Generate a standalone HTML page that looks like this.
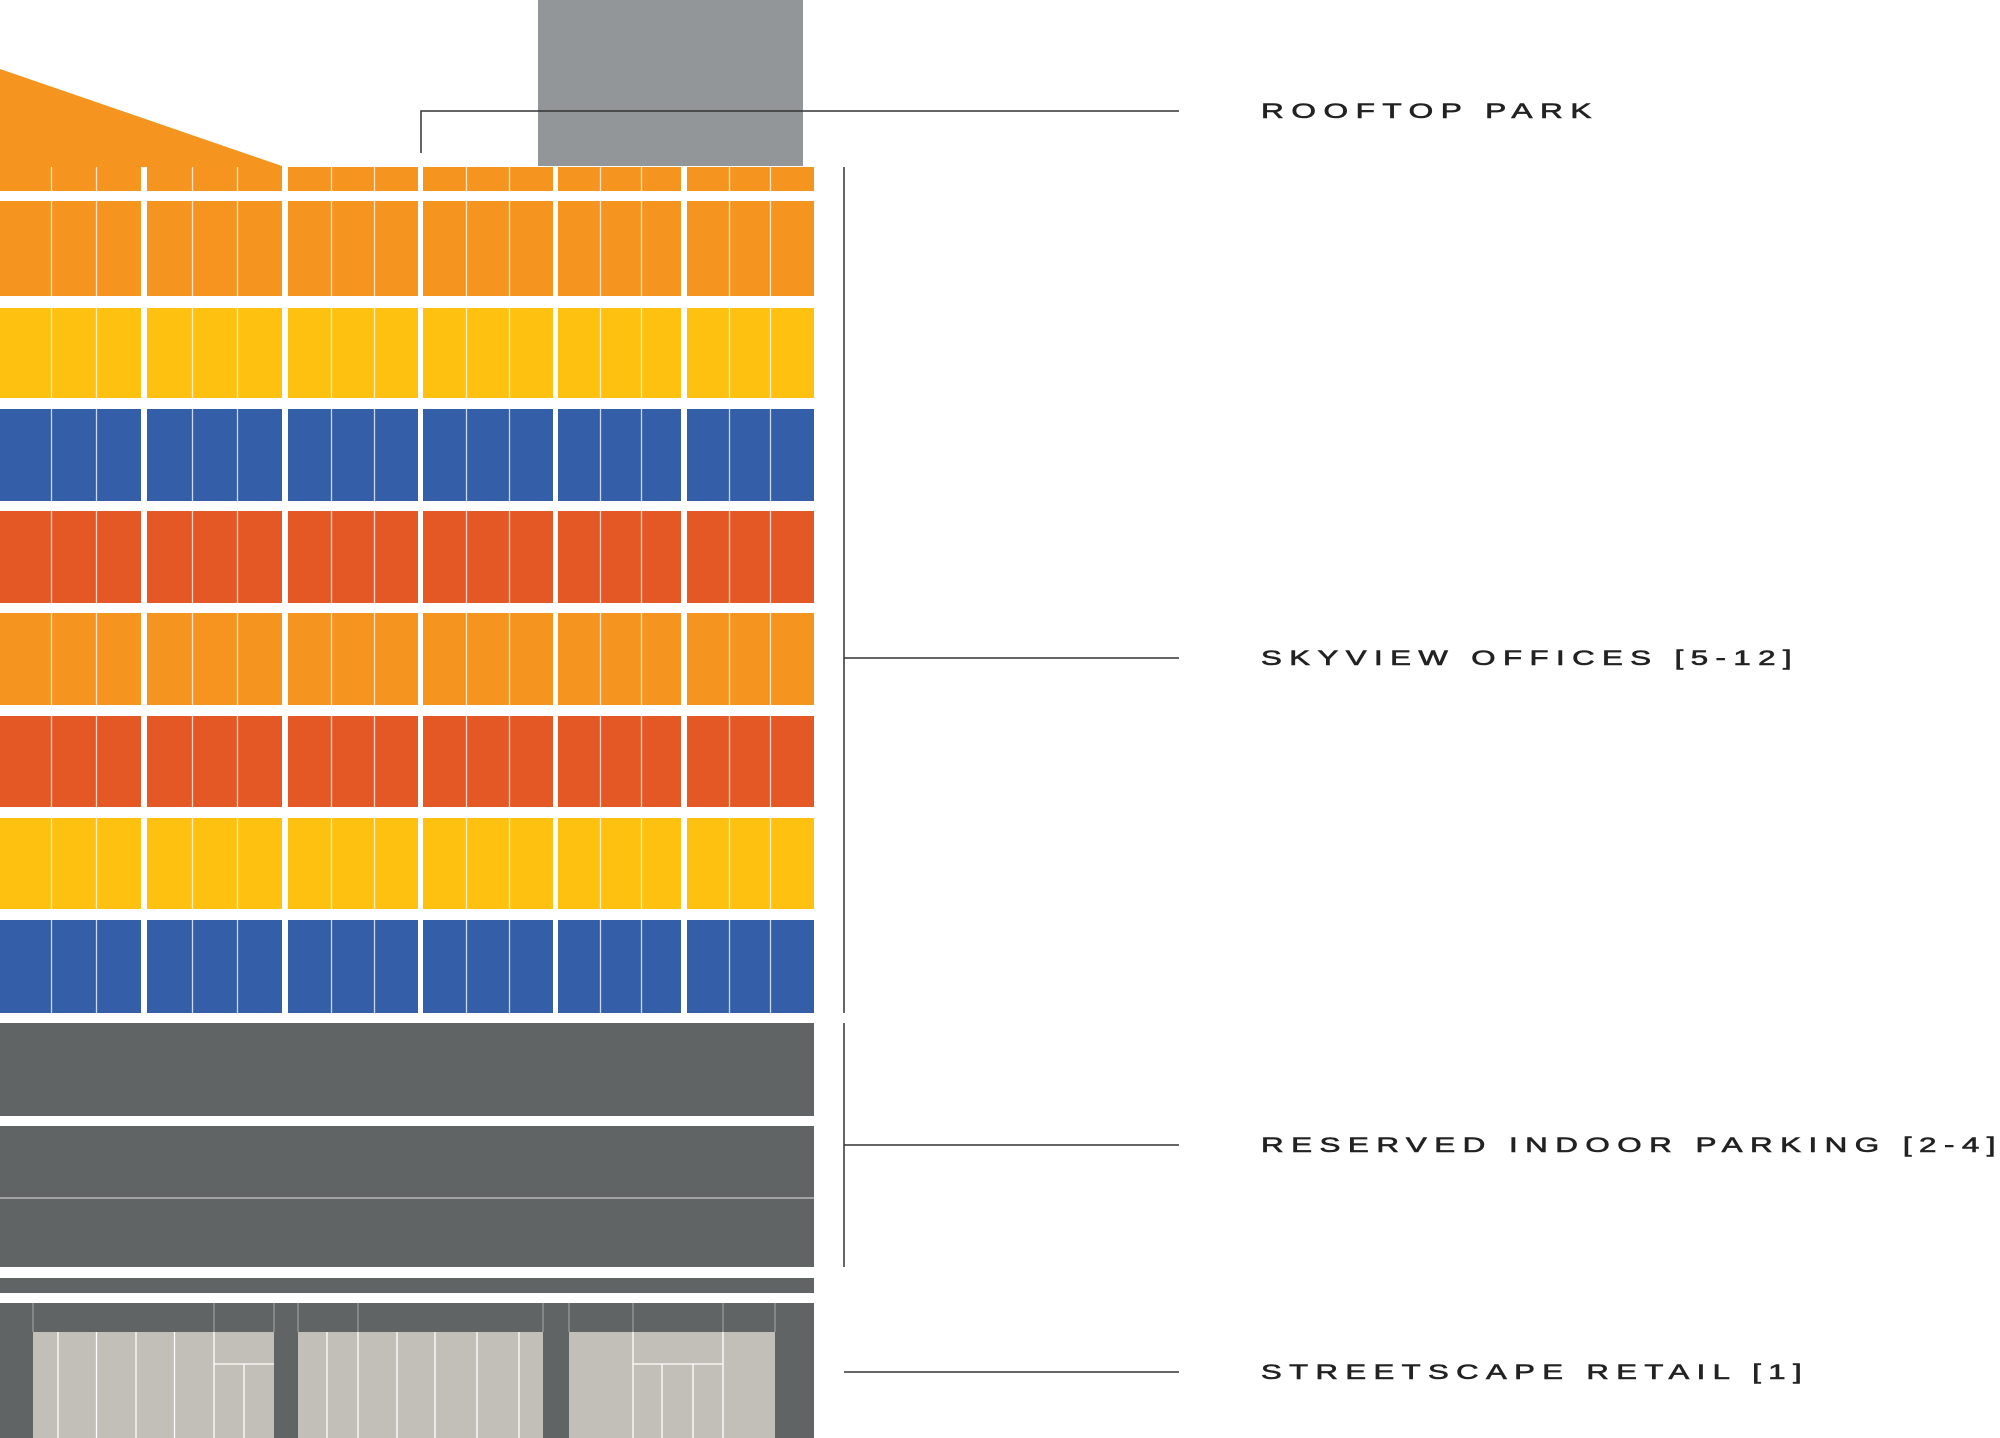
<!DOCTYPE html>
<html><head><meta charset="utf-8"><style>
html,body{margin:0;padding:0;background:#fff}
svg{display:block}
text{font-family:"Liberation Sans",sans-serif;font-size:21px;fill:#222;stroke:#222;stroke-width:0.6;letter-spacing:5px}
</style></head><body>
<svg width="2000" height="1438" viewBox="0 0 2000 1438" xmlns="http://www.w3.org/2000/svg">
<rect x="538" y="0" width="265" height="166" fill="#929698"/>
<polygon points="0,69 282,166 282,191 0,191" fill="#F5941F"/>
<g>
<rect x="0" y="167" width="814" height="24" fill="#F5941F"/>
<rect x="0" y="201" width="814" height="95" fill="#F5941F"/>
<rect x="0" y="308" width="814" height="90" fill="#FEC10F"/>
<rect x="0" y="409" width="814" height="92" fill="#345EA8"/>
<rect x="0" y="511" width="814" height="92" fill="#E35825"/>
<rect x="0" y="613" width="814" height="92" fill="#F5941F"/>
<rect x="0" y="716" width="814" height="91" fill="#E35825"/>
<rect x="0" y="818" width="814" height="91" fill="#FEC10F"/>
<rect x="0" y="920" width="814" height="93" fill="#345EA8"/>
</g>
<g fill="#fff">
<rect x="141" y="167" width="6" height="846"/>
<rect x="282" y="167" width="6" height="846"/>
<rect x="418" y="167" width="5" height="846"/>
<rect x="553" y="167" width="5" height="846"/>
<rect x="681" y="167" width="6" height="846"/>
</g>
<g stroke="#fff" stroke-opacity="0.75" stroke-width="1.3">
<line x1="51.5" y1="167" x2="51.5" y2="1013"/>
<line x1="96.5" y1="167" x2="96.5" y2="1013"/>
<line x1="192.5" y1="167" x2="192.5" y2="1013"/>
<line x1="237.5" y1="167" x2="237.5" y2="1013"/>
<line x1="331.5" y1="167" x2="331.5" y2="1013"/>
<line x1="374.5" y1="167" x2="374.5" y2="1013"/>
<line x1="466.5" y1="167" x2="466.5" y2="1013"/>
<line x1="509.5" y1="167" x2="509.5" y2="1013"/>
<line x1="600.5" y1="167" x2="600.5" y2="1013"/>
<line x1="641.5" y1="167" x2="641.5" y2="1013"/>
<line x1="729.5" y1="167" x2="729.5" y2="1013"/>
<line x1="770.5" y1="167" x2="770.5" y2="1013"/>
</g>
<rect x="0" y="1023" width="814" height="93" fill="#606464"/>
<rect x="0" y="1126" width="814" height="141" fill="#606464"/>
<line x1="0" y1="1198" x2="814" y2="1198" stroke="#c8c8c8" stroke-width="1.3"/>
<rect x="0" y="1278" width="814" height="15" fill="#606464"/>
<rect x="0" y="1303" width="814" height="135" fill="#606464"/>
<g fill="#C1BFB8">
<rect x="33" y="1332" width="241" height="106"/>
<rect x="298" y="1332" width="245" height="106"/>
<rect x="569" y="1332" width="206" height="106"/>
</g>
<g stroke="#fff" stroke-width="1.3">
<line x1="58" y1="1332" x2="58" y2="1438"/>
<line x1="96.5" y1="1332" x2="96.5" y2="1438"/>
<line x1="136" y1="1332" x2="136" y2="1438"/>
<line x1="174.5" y1="1332" x2="174.5" y2="1438"/>
<line x1="214" y1="1332" x2="214" y2="1438"/>
<line x1="214" y1="1364" x2="274" y2="1364"/>
<line x1="244" y1="1364" x2="244" y2="1438"/>
<line x1="327" y1="1332" x2="327" y2="1438"/>
<line x1="358" y1="1332" x2="358" y2="1438"/>
<line x1="397" y1="1332" x2="397" y2="1438"/>
<line x1="435" y1="1332" x2="435" y2="1438"/>
<line x1="477" y1="1332" x2="477" y2="1438"/>
<line x1="519" y1="1332" x2="519" y2="1438"/>
<line x1="633" y1="1332" x2="633" y2="1438"/>
<line x1="723" y1="1332" x2="723" y2="1438"/>
<line x1="633" y1="1364" x2="723" y2="1364"/>
<line x1="662" y1="1364" x2="662" y2="1438"/>
<line x1="693" y1="1364" x2="693" y2="1438"/>
</g>
<g stroke="#aaa" stroke-width="1">
<line x1="33" y1="1303" x2="33" y2="1332"/>
<line x1="214" y1="1303" x2="214" y2="1332"/>
<line x1="274" y1="1303" x2="274" y2="1332"/>
<line x1="298" y1="1303" x2="298" y2="1332"/>
<line x1="358" y1="1303" x2="358" y2="1332"/>
<line x1="543" y1="1303" x2="543" y2="1332"/>
<line x1="569" y1="1303" x2="569" y2="1332"/>
<line x1="633" y1="1303" x2="633" y2="1332"/>
<line x1="723" y1="1303" x2="723" y2="1332"/>
<line x1="775" y1="1303" x2="775" y2="1332"/>
</g>
<g stroke="#333" stroke-width="1.5" fill="none">
<polyline points="421,153 421,111 1179,111"/>
<line x1="844" y1="167" x2="844" y2="1013"/>
<line x1="844" y1="658" x2="1179" y2="658"/>
<line x1="844" y1="1023" x2="844" y2="1267"/>
<line x1="844" y1="1145" x2="1179" y2="1145"/>
<line x1="844" y1="1372" x2="1179" y2="1372"/>
</g>
<text x="1261" y="118" textLength="338" lengthAdjust="spacingAndGlyphs">ROOFTOP PARK</text>
<text x="1261" y="665" textLength="538" lengthAdjust="spacingAndGlyphs">SKYVIEW OFFICES [5-12]</text>
<text x="1261" y="1152" textLength="742" lengthAdjust="spacingAndGlyphs">RESERVED INDOOR PARKING [2-4]</text>
<text x="1261" y="1379" textLength="548" lengthAdjust="spacingAndGlyphs">STREETSCAPE RETAIL [1]</text>
</svg>
</body></html>
